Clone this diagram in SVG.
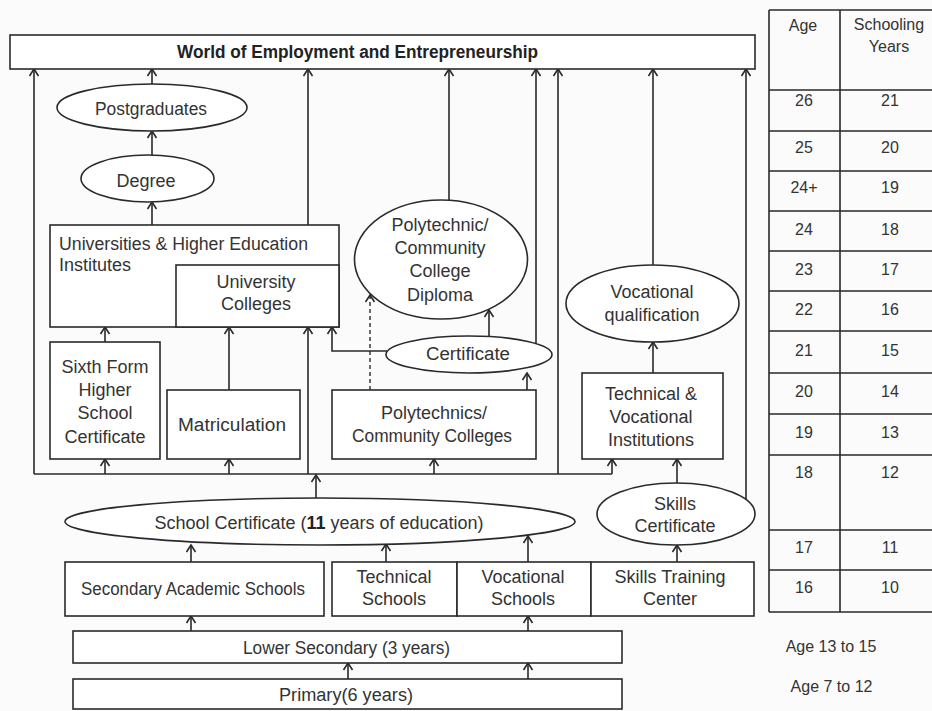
<svg xmlns="http://www.w3.org/2000/svg" width="932" height="711" viewBox="0 0 932 711">
<defs>
<style>
.bx{fill:#fff;stroke:#2a2a2a;stroke-width:1.6}
.el{fill:#fff;stroke:#2a2a2a;stroke-width:1.6}
.c{fill:none;stroke:#2a2a2a;stroke-width:1.6}
.d{fill:none;stroke:#2a2a2a;stroke-width:1.4;stroke-dasharray:4 3}
.t{font-family:"Liberation Sans",Arial,sans-serif;font-size:18px;fill:#333;text-anchor:middle}
.s{text-anchor:start}
.b{font-weight:bold;fill:#222}
.tb{font-family:"Liberation Sans",Arial,sans-serif;font-size:16px;fill:#333;text-anchor:middle}
.tl{fill:none;stroke:#2a2a2a;stroke-width:1.6}
</style>
<marker id="ah" markerUnits="userSpaceOnUse" orient="auto" refX="0" refY="0" markerWidth="12" markerHeight="12" overflow="visible">
<path d="M-7,-4.5 L0,0 L-7,4.5" fill="none" stroke="#2a2a2a" stroke-width="1.6"/>
</marker>
</defs>
<rect x="0" y="0" width="932" height="711" fill="#fbfbfb"/>

<g id="connectors">
<path class="c" d="M34,474 V69" marker-end="url(#ah)"/>
<path class="c" d="M34,474 H612"/>
<path class="c" d="M152,84 V69" marker-end="url(#ah)"/>
<path class="c" d="M152,155 V131" marker-end="url(#ah)"/>
<path class="c" d="M152,225 V202" marker-end="url(#ah)"/>
<path class="c" d="M308,225 V69" marker-end="url(#ah)"/>
<path class="c" d="M449,200 V69" marker-end="url(#ah)"/>
<path class="c" d="M536,343 V69" marker-end="url(#ah)"/>
<path class="c" d="M558,474 V69" marker-end="url(#ah)"/>
<path class="c" d="M653,265 V69" marker-end="url(#ah)"/>
<path class="c" d="M746,500 V69" marker-end="url(#ah)"/>
<path class="c" d="M105,474 V459" marker-end="url(#ah)"/>
<path class="c" d="M229,474 V459" marker-end="url(#ah)"/>
<path class="c" d="M434,474 V459" marker-end="url(#ah)"/>
<path class="c" d="M612,474 V459" marker-end="url(#ah)"/>
<path class="c" d="M308,474 V327" marker-end="url(#ah)"/>
<path class="c" d="M316,498 V475" marker-end="url(#ah)"/>
<path class="c" d="M105,342 V327" marker-end="url(#ah)"/>
<path class="c" d="M229,390 V327" marker-end="url(#ah)"/>
<path class="c" d="M387,351 H332 V327" marker-end="url(#ah)"/>
<path class="d" d="M370,390 V295" marker-end="url(#ah)"/>
<path class="c" d="M489,336 V310" marker-end="url(#ah)"/>
<path class="c" d="M527,390 V373" marker-end="url(#ah)"/>
<path class="c" d="M653,373 V342" marker-end="url(#ah)"/>
<path class="c" d="M677,483 V459" marker-end="url(#ah)"/>
<path class="c" d="M191,562 V545" marker-end="url(#ah)"/>
<path class="c" d="M386,562 V544" marker-end="url(#ah)"/>
<path class="c" d="M528,562 V536" marker-end="url(#ah)"/>
<path class="c" d="M677,562 V545" marker-end="url(#ah)"/>
<path class="c" d="M191,631 V616" marker-end="url(#ah)"/>
<path class="c" d="M528,631 V616" marker-end="url(#ah)"/>
<path class="c" d="M348,679 V663" marker-end="url(#ah)"/>
<path class="c" d="M528,679 V663" marker-end="url(#ah)"/>
</g>

<g id="world">
<rect class="bx" x="10" y="35" width="745" height="34"/>
<text class="t b" x="357.5" y="58" font-size="17" textLength="361" lengthAdjust="spacingAndGlyphs">World of Employment and Entrepreneurship</text>
</g>
<g id="postgraduates">
<ellipse class="el" cx="152" cy="107.5" rx="95" ry="23.5"/>
<text class="t" x="151" y="115" textLength="112" lengthAdjust="spacingAndGlyphs">Postgraduates</text>
</g>
<g id="degree">
<ellipse class="el" cx="147.5" cy="178.5" rx="66.5" ry="23.5"/>
<text class="t" x="146" y="186.5">Degree</text>
</g>
<g id="universities">
<rect class="bx" x="50" y="225" width="289" height="102"/>
<text class="t s" x="59" y="250" textLength="249" lengthAdjust="spacingAndGlyphs">Universities &amp; Higher Education</text>
<text class="t s" x="59" y="271">Institutes</text>
</g>
<g id="university-colleges">
<rect class="bx" x="176" y="265" width="163" height="62"/>
<text class="t" x="256" y="288">University</text>
<text class="t" x="256" y="309.5">Colleges</text>
</g>
<g id="sixth-form">
<rect class="bx" x="50" y="342" width="110" height="117"/>
<text class="t" x="105" y="373">Sixth Form</text>
<text class="t" x="105" y="396">Higher</text>
<text class="t" x="105" y="419">School</text>
<text class="t" x="105" y="443">Certificate</text>
</g>
<g id="matriculation">
<rect class="bx" x="167" y="390" width="133" height="69"/>
<text class="t" x="232" y="431" textLength="108" lengthAdjust="spacingAndGlyphs">Matriculation</text>
</g>
<g id="polytechnics">
<rect class="bx" x="332" y="390" width="204" height="69"/>
<text class="t" x="434" y="419">Polytechnics/</text>
<text class="t" x="432" y="442" textLength="160" lengthAdjust="spacingAndGlyphs">Community Colleges</text>
</g>
<g id="diploma">
<ellipse class="el" cx="441" cy="259.5" rx="86.5" ry="59.5"/>
<text class="t" x="440" y="231">Polytechnic/</text>
<text class="t" x="440" y="254">Community</text>
<text class="t" x="440" y="277">College</text>
<text class="t" x="440" y="301">Diploma</text>
</g>
<g id="certificate">
<ellipse class="el" cx="469" cy="354.5" rx="83" ry="18.5"/>
<text class="t" x="468" y="360" textLength="84" lengthAdjust="spacingAndGlyphs">Certificate</text>
</g>
<g id="vocational-qualification">
<ellipse class="el" cx="652.5" cy="303.5" rx="86.5" ry="38.5"/>
<text class="t" x="652" y="298">Vocational</text>
<text class="t" x="652" y="321">qualification</text>
</g>
<g id="technical-vocational-institutions">
<rect class="bx" x="582" y="373" width="141" height="86"/>
<text class="t" x="651" y="400">Technical &amp;</text>
<text class="t" x="651" y="423">Vocational</text>
<text class="t" x="651" y="446">Institutions</text>
</g>
<g id="school-certificate">
<ellipse class="el" cx="320" cy="521.5" rx="255" ry="23.5"/>
<text class="t" x="319" y="529" font-size="17.6">School Certificate (<tspan class="b">11</tspan> years of education)</text>
</g>
<g id="skills-certificate">
<ellipse class="el" cx="676" cy="514" rx="79" ry="31"/>
<text class="t" x="675" y="509.5">Skills</text>
<text class="t" x="675" y="532">Certificate</text>
</g>
<g id="secondary-academic">
<rect class="bx" x="65" y="562" width="259" height="54"/>
<text class="t" x="193" y="595" textLength="224" lengthAdjust="spacingAndGlyphs">Secondary Academic Schools</text>
</g>
<g id="technical-schools">
<rect class="bx" x="332" y="562" width="125" height="54"/>
<text class="t" x="394" y="583">Technical</text>
<text class="t" x="394" y="605">Schools</text>
</g>
<g id="vocational-schools">
<rect class="bx" x="457" y="562" width="134" height="54"/>
<text class="t" x="523" y="583">Vocational</text>
<text class="t" x="523" y="605">Schools</text>
</g>
<g id="skills-training">
<rect class="bx" x="591" y="562" width="163" height="54"/>
<text class="t" x="670" y="583">Skills Training</text>
<text class="t" x="670" y="605">Center</text>
</g>
<g id="lower-secondary">
<rect class="bx" x="73" y="631" width="549" height="32"/>
<text class="t" x="346.5" y="653.5" textLength="207" lengthAdjust="spacingAndGlyphs">Lower Secondary (3 years)</text>
</g>
<g id="primary">
<rect class="bx" x="73" y="679" width="549" height="30"/>
<text class="t" x="346" y="701" textLength="134" lengthAdjust="spacingAndGlyphs">Primary(6 years)</text>
</g>

<g id="age-table">
<path class="tl" d="M769,10 V612 M840,10 V612 M769,10 H932 M769,90 H932 M769,131 H932 M769,171 H932 M769,211 H932 M769,251 H932 M769,291 H932 M769,331 H932 M769,373 H932 M769,414 H932 M769,455 H932 M769,530 H932 M769,570 H932 M769,612 H932"/>
<text class="tb" x="803" y="31">Age</text>
<text class="tb" x="889" y="30">Schooling</text>
<text class="tb" x="889" y="51.5">Years</text>
<text class="tb" x="804" y="106">26</text><text class="tb" x="890" y="106">21</text>
<text class="tb" x="804" y="153">25</text><text class="tb" x="890" y="153">20</text>
<text class="tb" x="804" y="193">24+</text><text class="tb" x="890" y="193">19</text>
<text class="tb" x="804" y="235">24</text><text class="tb" x="890" y="235">18</text>
<text class="tb" x="804" y="275">23</text><text class="tb" x="890" y="275">17</text>
<text class="tb" x="804" y="315">22</text><text class="tb" x="890" y="315">16</text>
<text class="tb" x="804" y="356">21</text><text class="tb" x="890" y="356">15</text>
<text class="tb" x="804" y="397">20</text><text class="tb" x="890" y="397">14</text>
<text class="tb" x="804" y="438">19</text><text class="tb" x="890" y="438">13</text>
<text class="tb" x="804" y="478">18</text><text class="tb" x="890" y="478">12</text>
<text class="tb" x="804" y="553">17</text><text class="tb" x="890" y="553">11</text>
<text class="tb" x="804" y="593">16</text><text class="tb" x="890" y="593">10</text>
</g>
<g id="age-labels">
<text class="tb" x="831" y="652" font-size="17" fill="#222">Age 13 to 15</text>
<text class="tb" x="831.5" y="692" font-size="17" fill="#222">Age 7 to 12</text>
</g>
</svg>
